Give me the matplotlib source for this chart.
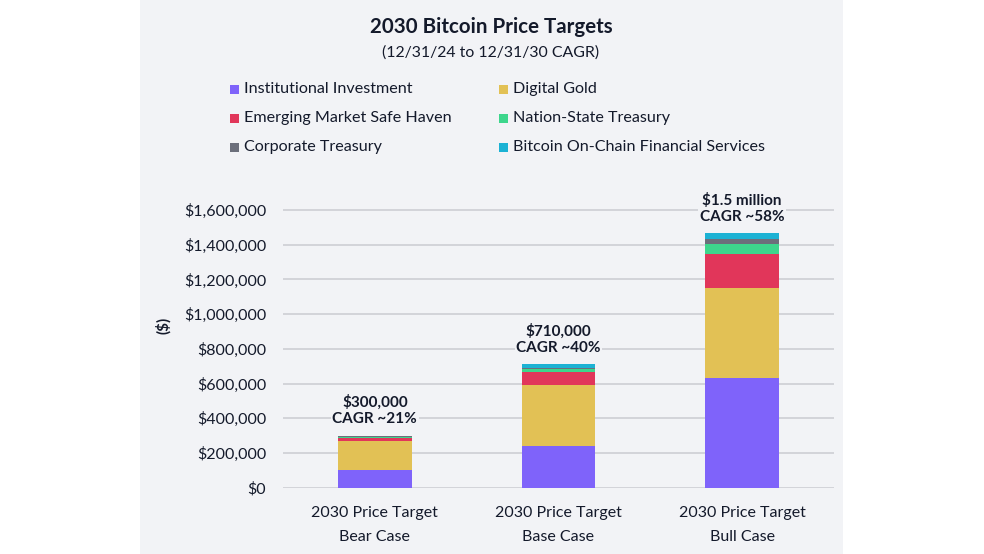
import matplotlib
matplotlib.use("Agg")
import matplotlib.pyplot as plt
from matplotlib.patches import Rectangle
from matplotlib.ticker import FuncFormatter

plt.rcParams["font.family"] = ["Lato", "DejaVu Sans"]

# data ($)
cases = ["2030 Price Target\nBear Case", "2030 Price Target\nBase Case", "2030 Price Target\nBull Case"]
segments = ["Institutional Investment", "Digital Gold", "Emerging Market Safe Haven",
            "Nation-State Treasury", "Corporate Treasury", "Bitcoin On-Chain Financial Services"]
institutional = [100000, 240000, 633000]
digital_gold = [170000, 349000, 520000]
em_safe_haven = [19000, 80000, 195000]
nation_state = [4000, 16000, 54000]
corporate = [3000, 5000, 31000]
on_chain = [4000, 20000, 32000]
annotations = ["$300,000\nCAGR ~21%", "$710,000\nCAGR ~40%", "$1.5 million\nCAGR ~58%"]
yticks = [0, 200000, 400000, 600000, 800000, 1000000, 1200000, 1400000, 1600000]

colors = ["#7f63fa", "#e2c155", "#e1365a", "#3dd68c", "#6c6f7b", "#1cb2d4"]
INK = "#141a2b"
PANEL = "#f2f3f6"

fig = plt.figure(figsize=(9.84, 5.54), dpi=100)
W, H = 984, 554
fig.patches.append(Rectangle((140 / W, 0), (843 - 140) / W, 1, transform=fig.transFigure,
                             facecolor=PANEL, edgecolor="none", zorder=-10))

# axes placed so that $0 sits at y=488 px, $1.6M at y=210 px
y0_px, y16_px = 487.7, 210.0
ymax = 1700000
top_px = y0_px - (y0_px - y16_px) * ymax / 1600000
ax = fig.add_axes([283 / W, (H - y0_px) / H, (834 - 283) / W, (y0_px - top_px) / H])
ax.set_facecolor("none")

series = [institutional, digital_gold, em_safe_haven, nation_state, corporate, on_chain]
x = list(range(len(cases)))
bottom = [0] * len(cases)
for vals, col, name in zip(series, colors, segments):
    ax.bar(x, vals, width=0.40, bottom=bottom, color=col, label=name, zorder=3)
    bottom = [b + v for b, v in zip(bottom, vals)]

for xi, total, txt in zip(x, bottom, annotations):
    ax.annotate(txt, (xi, total), xytext=(0, 7), textcoords="offset points",
                ha="center", va="bottom", fontsize=11, fontweight="bold",
                color=INK, linespacing=1.15, zorder=4,
                bbox=dict(facecolor=PANEL, edgecolor="none", pad=1))

ax.set_xlim(-0.5, 2.5)
ax.set_ylim(0, ymax)
ax.set_yticks(yticks)
ax.yaxis.set_major_formatter(FuncFormatter(lambda v, _: f"${v:,.0f}"))
ax.set_xticks(x)
ax.set_xticklabels(cases, linespacing=1.95)
ax.tick_params(axis="y", length=0, pad=12, labelsize=11.5, labelcolor=INK)
ax.tick_params(axis="x", length=0, pad=13, labelsize=11.5, labelcolor=INK)
ax.grid(axis="y", color="#d3d4d9", lw=1.4, zorder=0)
for s in ax.spines.values():
    s.set_visible(False)

fig.text(163 / W, 1 - 325 / H, "($)", rotation=90, ha="center", va="center",
         fontsize=11, fontweight="bold", color=INK)

# titles
fig.text(491 / W, 1 - 27 / H, "2030 Bitcoin Price Targets", ha="center", va="center",
         fontsize=14.8, fontweight="bold", color=INK)
fig.text(491 / W, 1 - 53 / H, "(12/31/24 to 12/31/30 CAGR)", ha="center", va="center",
         fontsize=11.4, color=INK)

# legend, two columns laid out like the reference
leg_cols = [234, 503]
leg_rows = [89, 118, 147]
for k in range(len(segments)):
    cx = leg_cols[k % 2]
    cy = leg_rows[k // 2]
    fig.patches.append(Rectangle(((cx - 4.5) / W, 1 - (cy + 4.5) / H), 9 / W, 9 / H,
                                 transform=fig.transFigure, facecolor=colors[k],
                                 edgecolor="none"))
    fig.text((cx + 10) / W, 1 - cy / H, segments[k], ha="left", va="center",
             fontsize=11.6, color=INK)

fig.savefig("out.png", dpi=100)
